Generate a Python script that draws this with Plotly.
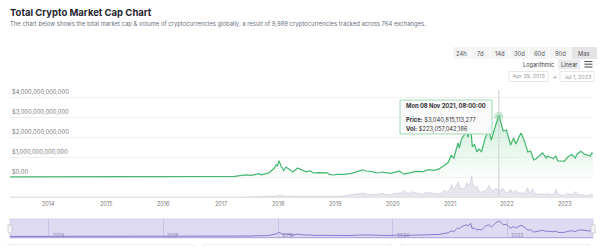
import plotly.graph_objects as go

W, H = 612, 247

# ---------------- data ----------------
cap_dates = ["2013-04-29","2013-07-01","2013-10-01","2013-11-30","2013-12-20","2014-01-15","2014-03-01",
    "2014-06-01","2014-09-01","2014-12-01","2015-03-01","2015-06-01","2015-09-01","2015-12-01","2016-03-01",
    "2016-06-15","2016-09-01","2016-12-01","2017-02-01","2017-04-01","2017-05-25","2017-06-15","2017-07-15",
    "2017-09-01","2017-09-15","2017-11-01","2017-12-08","2017-12-20","2017-12-28","2018-01-07","2018-01-20",
    "2018-02-06","2018-02-20","2018-03-15","2018-04-06","2018-05-05","2018-05-25","2018-06-28","2018-07-25",
    "2018-08-15","2018-09-20","2018-11-10","2018-11-25","2018-12-15","2019-01-15","2019-03-01","2019-04-10",
    "2019-05-15","2019-06-26","2019-07-15","2019-08-15","2019-09-25","2019-10-27","2019-12-18","2020-02-14",
    "2020-03-13","2020-04-30","2020-06-01","2020-07-15","2020-08-15","2020-09-20","2020-10-21","2020-11-25",
    "2020-12-20","2021-01-08","2021-01-25","2021-02-21","2021-03-01","2021-03-13","2021-04-16","2021-04-25",
    "2021-05-12","2021-05-23","2021-06-05","2021-06-22","2021-07-05","2021-07-20","2021-08-15","2021-09-06",
    "2021-09-21","2021-10-21","2021-11-08","2021-11-26","2021-12-05","2021-12-27","2022-01-22","2022-02-10",
    "2022-02-24","2022-03-29","2022-04-15","2022-05-12","2022-05-30","2022-06-18","2022-07-01","2022-07-30",
    "2022-08-14","2022-09-06","2022-09-12","2022-10-20","2022-11-06","2022-11-20","2022-12-30","2023-01-21",
    "2023-02-16","2023-03-10","2023-03-22","2023-04-14","2023-05-10","2023-06-15","2023-06-22","2023-07-01"]
cap_trillions = [0.0015,0.0012,0.0017,0.014,0.008,0.011,0.008,
    0.0085,0.007,0.005,0.0037,0.0037,0.0035,0.0062,0.0068,
    0.011,0.0095,0.012,0.019,0.027,0.09,0.11,0.08,
    0.17,0.11,0.19,0.45,0.62,0.56,0.82,0.55,
    0.33,0.5,0.35,0.25,0.45,0.37,0.26,0.3,
    0.2,0.22,0.21,0.13,0.1,0.13,0.13,0.18,
    0.26,0.36,0.3,0.28,0.2,0.25,0.18,0.29,
    0.14,0.24,0.28,0.27,0.37,0.33,0.39,0.58,
    0.72,1.08,0.95,1.7,1.45,1.85,2.3,2.0,
    2.55,1.5,1.65,1.25,1.4,1.25,2.0,2.3,
    1.85,2.65,3.040815113277,2.6,2.3,2.35,1.6,1.95,
    1.65,2.2,1.9,1.25,1.3,0.85,0.9,1.1,
    1.2,0.95,1.05,0.92,1.05,0.8,0.79,1.0,
    1.12,0.95,1.15,1.29,1.13,1.05,1.2,1.18]

vol_dates = ["2013-04-29","2013-12-01","2014-06-01","2015-06-01","2016-06-01","2017-01-01","2017-06-01",
    "2017-12-15","2018-01-10","2018-03-01","2018-06-01","2018-09-01","2018-12-01","2019-02-01","2019-04-15",
    "2019-05-01","2019-05-15","2019-06-01","2019-06-27","2019-07-15","2019-08-01","2019-08-15","2019-09-01",
    "2019-09-15","2019-10-01","2019-10-26","2019-11-15","2019-12-01","2019-12-15","2020-01-01","2020-01-15",
    "2020-02-01","2020-02-15","2020-03-01","2020-03-13","2020-04-01","2020-04-15","2020-05-01","2020-05-15",
    "2020-06-01","2020-06-15","2020-07-01","2020-07-15","2020-08-01","2020-08-15","2020-09-01","2020-09-15",
    "2020-10-01","2020-10-15","2020-11-01","2020-11-15","2020-11-26","2020-12-10","2020-12-28","2021-01-11",
    "2021-01-25","2021-02-08","2021-02-22","2021-03-08","2021-03-22","2021-04-05","2021-04-18","2021-05-01",
    "2021-05-12","2021-05-19","2021-05-26","2021-06-08","2021-06-22","2021-07-05","2021-07-20","2021-08-05",
    "2021-08-20","2021-09-07","2021-09-20","2021-10-05","2021-10-20","2021-11-08","2021-11-20","2021-12-04",
    "2021-12-20","2022-01-05","2022-01-22","2022-02-05","2022-02-24","2022-03-10","2022-03-25","2022-04-10",
    "2022-04-25","2022-05-10","2022-05-25","2022-06-13","2022-06-25","2022-07-10","2022-07-25","2022-08-10",
    "2022-08-25","2022-09-10","2022-09-25","2022-10-10","2022-10-25","2022-11-09","2022-11-20","2022-12-05",
    "2022-12-20","2023-01-05","2023-01-20","2023-02-05","2023-02-20","2023-03-10","2023-03-20","2023-04-05",
    "2023-04-20","2023-05-05","2023-05-20","2023-06-05","2023-06-21","2023-07-01"]
vol_billions = [0.1,0.5,0.1,0.1,0.2,0.5,3,
    25,45,20,12,12,15,20,60,
    70,85,75,110,90,70,80,65,
    70,75,110,80,70,65,75,110,
    100,120,110,190,110,100,150,130,
    110,95,80,85,140,110,130,100,
    90,85,100,130,200,140,180,350,
    220,300,420,250,230,260,400,300,
    450,600,380,260,300,150,140,180,
    200,330,200,190,240,223.057042186,180,250,
    130,130,220,120,190,110,120,100,
    120,260,110,230,100,80,90,95,
    70,100,75,60,95,220,80,55,
    45,50,110,70,90,150,120,60,
    70,55,40,50,90,45]

y_tick_vals = [0, 1, 2, 3, 4]
y_tick_text = ["$0.00", "$1,000,000,000,000", "$2,000,000,000,000",
               "$3,000,000,000,000", "$4,000,000,000,000"]
x_tick_years = ["2014", "2015", "2016", "2017", "2018", "2019", "2020", "2021", "2022", "2023"]
range_buttons = ["24h", "7d", "14d", "30d", "60d", "90d", "Max"]
nav_years = ["2014", "2016", "2018", "2020", "2022"]
peak_date = "2021-11-08"
peak_value = 3.040815113277

FONT = "Inter, Roboto, sans-serif"
GREEN = "#45b870"

def px(x):
    return x / W

def py(y):
    return 1 - y / H

caps = [v * 1e12 for v in cap_trillions]
vols = [v * 1e9 for v in vol_billions]

fig = go.Figure()

# volume
fig.add_trace(go.Scatter(x=vol_dates, y=vols, xaxis="x", yaxis="y2", mode="lines",
                         line=dict(color="rgba(185,185,205,0.8)", width=0.5),
                         fill="tozeroy", fillcolor="rgba(205,205,220,0.5)", hoverinfo="skip"))
# market cap
fig.add_trace(go.Scatter(x=cap_dates, y=caps, xaxis="x", yaxis="y", mode="lines",
                         line=dict(color=GREEN, width=1.2),
                         fill="tozeroy",
                         fillgradient=dict(type="vertical", start=0, stop=3.0e12,
                                           colorscale=[[0, "rgba(120,210,150,0.03)"],
                                                       [1, "rgba(120,210,150,0.35)"]]),
                         hoverinfo="skip"))
# peak marker
fig.add_trace(go.Scatter(x=[peak_date], y=[peak_value * 1e12], xaxis="x", yaxis="y", mode="markers",
                         marker=dict(size=9, color="rgba(69,184,112,0.3)", line=dict(width=0)),
                         hoverinfo="skip"))
fig.add_trace(go.Scatter(x=[peak_date], y=[peak_value * 1e12], xaxis="x", yaxis="y", mode="markers",
                         marker=dict(size=3, color=GREEN), hoverinfo="skip"))
# navigator line
fig.add_trace(go.Scatter(x=cap_dates, y=caps, xaxis="x2", yaxis="y3", mode="lines",
                         line=dict(color="#7a70c8", width=0.9), hoverinfo="skip"))

xdom = [px(10), px(593)]
xrange = ["2013-04-29", "2023-07-01"]

fig.update_layout(
    width=W, height=H, autosize=False,
    margin=dict(l=0, r=0, t=0, b=0),
    paper_bgcolor="white", plot_bgcolor="rgba(0,0,0,0)",
    showlegend=False, hovermode=False,
    font=dict(family=FONT, color="#666", size=6),
    xaxis=dict(domain=xdom, range=xrange, type="date", anchor="y",
               showticklabels=False, showgrid=False, showline=True,
               linecolor="#e4e4e4", linewidth=1, ticks="", zeroline=False),
    yaxis=dict(domain=[py(197), py(85)], range=[-1.0e12, 4.6e12],
               tickvals=[v * 1e12 for v in y_tick_vals], showticklabels=False,
               showgrid=True, gridcolor="#f0f0f0", gridwidth=1, zeroline=False,
               showline=False, ticks=""),
    yaxis2=dict(domain=[py(197), py(85)], range=[0, 3150e9], overlaying="y",
                showgrid=False, showticklabels=False, zeroline=False, anchor="x"),
    xaxis2=dict(domain=xdom, range=xrange, type="date", anchor="y3",
                dtick="M24", tick0="2014-01-01", showgrid=True,
                gridcolor="rgba(120,110,200,0.2)", gridwidth=1,
                showticklabels=False, showline=False, zeroline=False),
    yaxis3=dict(domain=[py(238), py(219)], range=[-0.3e12, 3.4e12],
                showgrid=False, showticklabels=False, zeroline=False, anchor="x2"),
)

shapes = []
annotations = []

# y tick labels (above gridlines, inside the plot)
for v, t in zip(y_tick_vals, y_tick_text):
    annotations.append(dict(x=px(10), xref="paper", y=v * 1e12, yref="y", text=t, showarrow=False,
                            xanchor="left", yanchor="bottom", yshift=0,
                            font=dict(size=5.8, color="#777")))
# x tick labels
for yr in x_tick_years:
    annotations.append(dict(x=yr + "-01-01", xref="x", y=py(204), yref="paper", text=yr, showarrow=False,
                            xanchor="center", yanchor="middle", font=dict(size=5.5, color="#777")))

# navigator background
shapes.append(dict(type="rect", xref="paper", yref="paper", x0=px(10), x1=px(593), y0=py(238), y1=py(219),
                   fillcolor="#dddaf2", line=dict(color="#cfcbeb", width=0.8), layer="below"))
shapes.append(dict(type="line", xref="paper", yref="paper", x0=px(10), x1=px(593), y0=py(237.5), y1=py(237.5),
                   line=dict(color="#b3ace0", width=1)))
for hx in (10, 593):
    shapes.append(dict(type="rect", xref="paper", yref="paper", x0=px(hx - 2), x1=px(hx + 2),
                       y0=py(233), y1=py(225), fillcolor="#f4f4f4", line=dict(color="#bbb", width=0.6)))
for yr in nav_years:
    annotations.append(dict(x=yr + "-01-01", xref="x2", y=py(234.5), yref="paper", text=yr,
                            showarrow=False, xanchor="left", yanchor="middle", xshift=2,
                            font=dict(size=5, color="#8e89b6")))

# crosshair
shapes.append(dict(type="line", xref="x", yref="paper", x0=peak_date, x1=peak_date,
                   y0=py(197), y1=py(90), line=dict(color="#d0d0d0", width=1)))

# tooltip
shapes.append(dict(type="rect", xref="paper", yref="paper", x0=px(400), x1=px(492), y0=py(134), y1=py(100),
                   fillcolor="rgba(250,250,250,0.95)", line=dict(color="#9fd9b4", width=1)))
annotations.append(dict(x=px(404), y=py(105.5), xref="paper", yref="paper", showarrow=False,
                        xanchor="left", yanchor="middle", text="<b>Mon 08 Nov 2021, 08:00:00</b>",
                        font=dict(size=5.8, color="#333")))
annotations.append(dict(x=px(404), y=py(120), xref="paper", yref="paper", showarrow=False,
                        xanchor="left", yanchor="middle", text="<b>Price:</b> $3,040,815,113,277",
                        font=dict(size=5.8, color="#333")))
annotations.append(dict(x=px(404), y=py(128.5), xref="paper", yref="paper", showarrow=False,
                        xanchor="left", yanchor="middle", text="<b>Vol:</b> $223,057,042,186",
                        font=dict(size=5.8, color="#333")))

# title + subtitle
annotations.append(dict(x=px(8), y=py(12), xref="paper", yref="paper", showarrow=False,
                        xanchor="left", yanchor="middle", text="<b>Total Crypto Market Cap Chart</b>",
                        font=dict(size=9.5, color="#1f2430")))
annotations.append(dict(x=px(8), y=py(24.5), xref="paper", yref="paper", showarrow=False,
                        xanchor="left", yanchor="middle",
                        text="The chart below shows the total market cap &amp; volume of cryptocurrencies globally, "
                             "a result of 9,989 cryptocurrencies tracked across 764 exchanges.",
                        font=dict(size=5.9, color="#6b7280")))

# range buttons
edges = [453, 470, 490, 509, 529, 549, 571, 597]
shapes.append(dict(type="rect", xref="paper", yref="paper", x0=px(453), x1=px(597), y0=py(59), y1=py(47),
                   fillcolor="#f4f4f5", line=dict(width=0)))
shapes.append(dict(type="rect", xref="paper", yref="paper", x0=px(571), x1=px(597), y0=py(59), y1=py(47),
                   fillcolor="#e5e5e7", line=dict(width=0)))
for e in edges[1:-1]:
    shapes.append(dict(type="line", xref="paper", yref="paper", x0=px(e), x1=px(e), y0=py(59), y1=py(47),
                       line=dict(color="white", width=1)))
for i, lab in enumerate(range_buttons):
    cx = (edges[i] + edges[i + 1]) / 2
    annotations.append(dict(x=px(cx), y=py(53), xref="paper", yref="paper", showarrow=False,
                            xanchor="center", yanchor="middle", text=lab,
                            font=dict(size=5.8, color="#555")))

# scale toggles
annotations.append(dict(x=px(538), y=py(64.5), xref="paper", yref="paper", showarrow=False,
                        xanchor="center", yanchor="middle", text="Logarithmic",
                        font=dict(size=5.6, color="#444")))
shapes.append(dict(type="rect", xref="paper", yref="paper", x0=px(558), x1=px(580), y0=py(69.5), y1=py(59.5),
                   fillcolor="#ececee", line=dict(width=0)))
annotations.append(dict(x=px(569), y=py(64.5), xref="paper", yref="paper", showarrow=False,
                        xanchor="center", yanchor="middle", text="Linear",
                        font=dict(size=5.6, color="#444")))
for ly in (61.5, 64.2, 67):
    shapes.append(dict(type="line", xref="paper", yref="paper", x0=px(584.5), x1=px(592.5), y0=py(ly), y1=py(ly),
                       line=dict(color="#555", width=1.1)))

# date inputs
shapes.append(dict(type="rect", xref="paper", yref="paper", x0=px(509), x1=px(548), y0=py(81.5), y1=py(71.5),
                   fillcolor="white", line=dict(color="#dcdcdc", width=0.7)))
shapes.append(dict(type="rect", xref="paper", yref="paper", x0=px(560), x1=px(594), y0=py(81.5), y1=py(71.5),
                   fillcolor="white", line=dict(color="#dcdcdc", width=0.7)))
annotations.append(dict(x=px(528.5), y=py(76.5), xref="paper", yref="paper", showarrow=False,
                        xanchor="center", yanchor="middle", text="Apr 29, 2013",
                        font=dict(size=5.3, color="#999")))
annotations.append(dict(x=px(554), y=py(76.5), xref="paper", yref="paper", showarrow=False,
                        xanchor="center", yanchor="middle", text="→",
                        font=dict(size=5.3, color="#999")))
annotations.append(dict(x=px(577), y=py(76.5), xref="paper", yref="paper", showarrow=False,
                        xanchor="center", yanchor="middle", text="Jul 1, 2023",
                        font=dict(size=5.3, color="#999")))

# cards below (partially visible)
for x0, x1 in ((8, 194), (204, 391), (401, 589)):
    shapes.append(dict(type="rect", xref="paper", yref="paper", x0=px(x0), x1=px(x1), y0=py(252), y1=py(244.5),
                       fillcolor="white", line=dict(color="#ececec", width=0.8)))

fig.update_layout(shapes=shapes, annotations=annotations)
fig.write_html("out.html")
